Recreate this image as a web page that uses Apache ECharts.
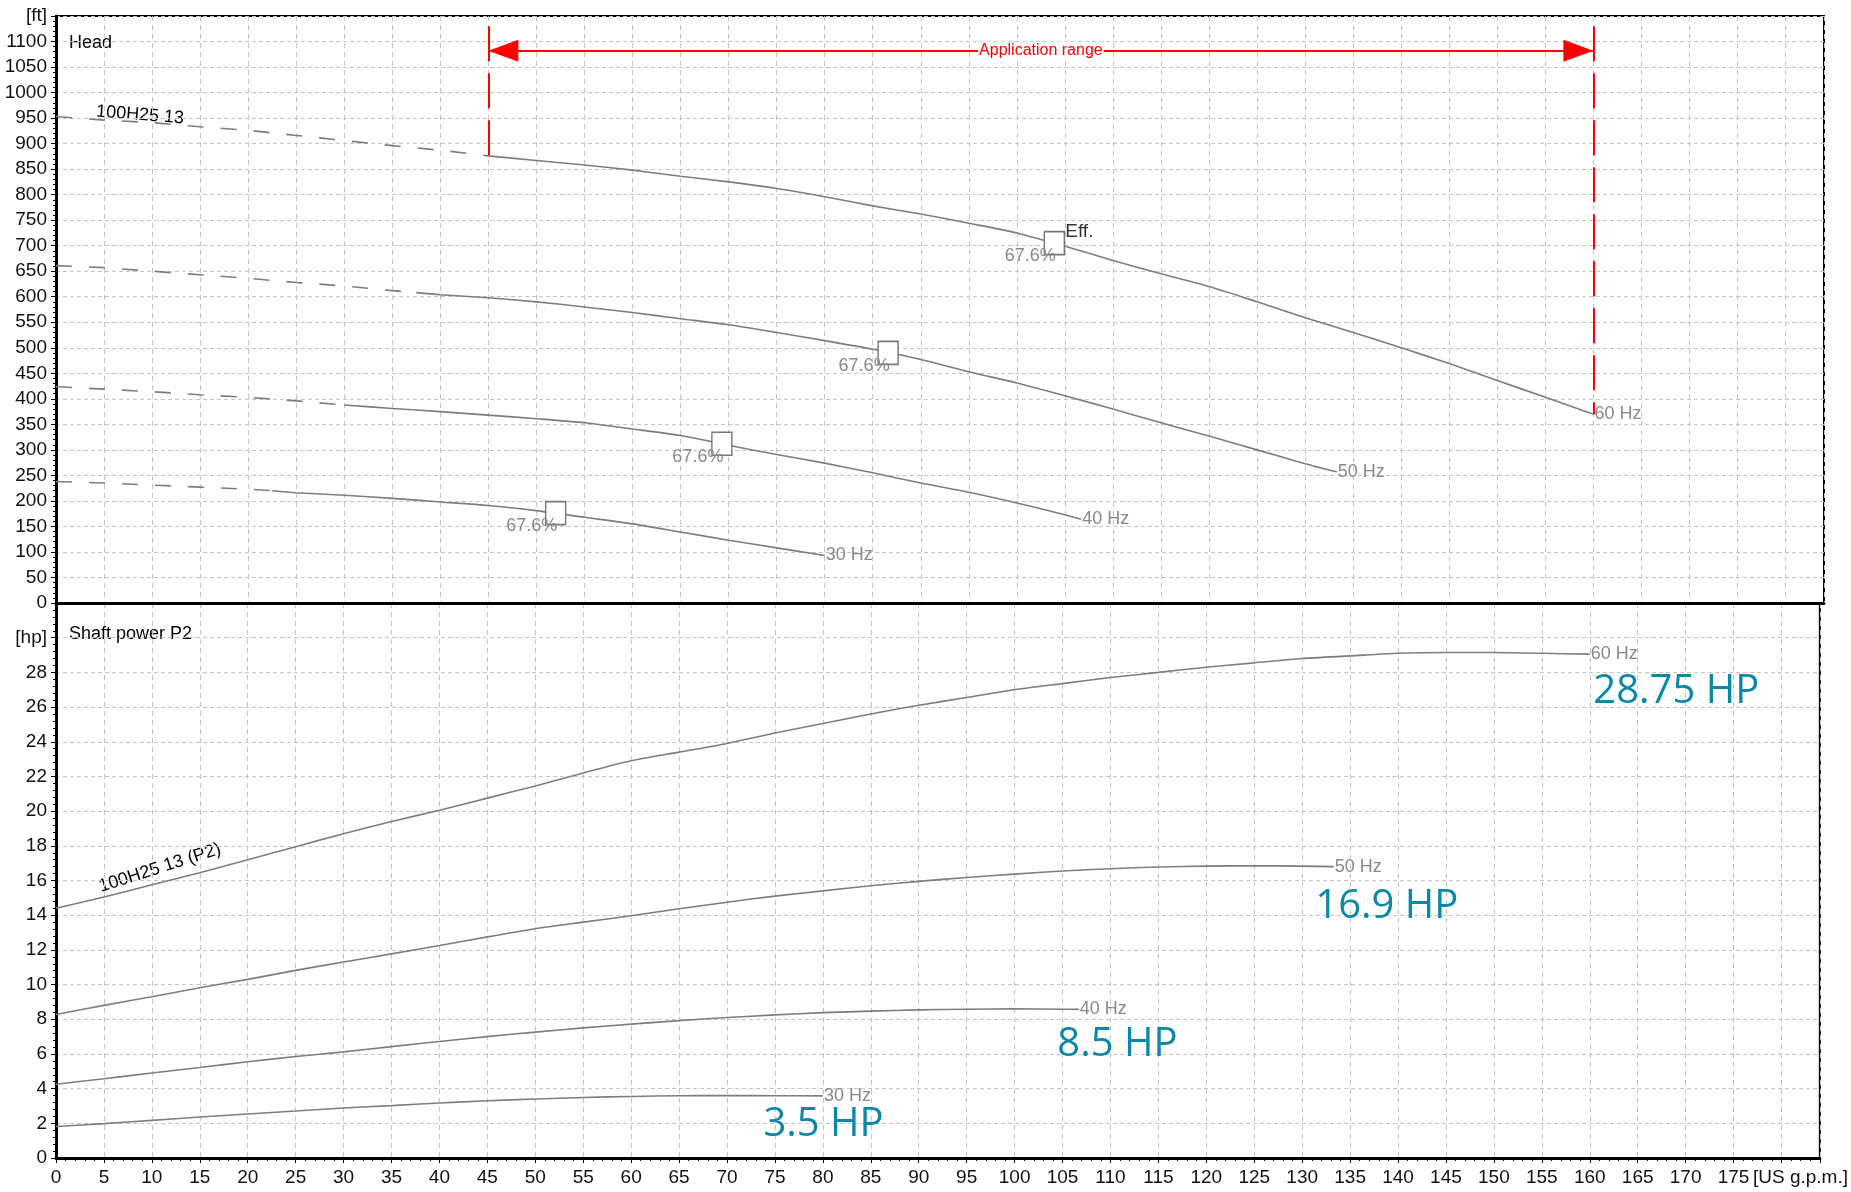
<!DOCTYPE html>
<html>
<head>
<meta charset="utf-8">
<title>100H25 13</title>
<script src="https://cdn.jsdelivr.net/npm/echarts@6/dist/echarts.min.js"></script>
<style>
  html, body { margin: 0; padding: 0; background: #fff; }
  #chart { width: 1851px; height: 1192px; }
</style>
</head>
<body>
<div id="chart"></div>
<script>
// flow [US g.p.m.] vs head [ft], one curve per frequency
const head60 = [[0,953],[5,946],[10,941],[15,933],[20,926],[25,916],[30,906],[35,896],[40,887],[45,876],[50,867],[55,858],[60,848],[65,836],[70,825],[75,812],[80,796],[85,778],[90,762],[95,744],[100,725],[105,699],[110,671],[115,645],[120,620],[125,590],[130,559],[135,530],[140,500],[145,469],[150,436],[155,403],[160,370]]
const head50 = [[0,661],[5,657],[10,650],[15,643],[20,636],[25,628],[30,621],[35,612],[37.5,608],[40,604],[45,598],[50,590],[55,580],[60,569],[65,557],[70,545],[75,530],[80,514],[85,497],[90,477],[95,453],[100,431],[105,406],[110,380],[115,353],[120,327],[125,300],[130,273],[133.3,257]]
const head40 = [[0,424],[5,419],[10,414],[15,408],[20,403],[25,396],[30,388],[35,381],[40,375],[45,368],[50,361],[55,353],[60,341],[65,328],[70,309],[75,291],[80,274],[85,255],[90,235],[95,217],[100,196],[105,173],[106.7,164]]
const head30 = [[0,238],[5,235],[10,231],[15,227],[20,223],[22.5,220],[25,216],[30,211],[35,205],[40,198],[45,191],[50,181],[55,168],[60,155],[65,139],[70,123],[75,108],[80,93]]

// flow [US g.p.m.] vs shaft power P2 [hp]
const power60 = [[0,14.4],[5,15.05],[10,15.75],[15,16.45],[20,17.2],[25,17.95],[30,18.7],[35,19.4],[40,20.05],[45,20.75],[50,21.45],[55,22.2],[60,22.9],[65,23.4],[70,23.9],[75,24.5],[80,25.05],[85,25.6],[90,26.1],[95,26.55],[100,27.0],[105,27.35],[110,27.7],[115,28.0],[120,28.3],[125,28.55],[130,28.8],[135,28.95],[140,29.1],[145,29.15],[150,29.15],[155,29.1],[160,29.05]]
const power50 = [[0,8.27],[5,8.8],[10,9.3],[15,9.82],[20,10.3],[25,10.82],[30,11.3],[35,11.77],[40,12.25],[45,12.75],[50,13.22],[55,13.6],[60,13.97],[65,14.37],[70,14.75],[75,15.1],[80,15.4],[85,15.7],[90,15.95],[95,16.17],[100,16.37],[105,16.55],[110,16.68],[115,16.78],[120,16.83],[125,16.85],[130,16.83],[133.3,16.8]]
const power40 = [[0,4.25],[5,4.57],[10,4.9],[15,5.22],[20,5.55],[25,5.85],[30,6.12],[35,6.42],[40,6.72],[45,7.0],[50,7.26],[55,7.5],[60,7.72],[65,7.92],[70,8.1],[75,8.25],[80,8.38],[85,8.47],[90,8.54],[95,8.58],[100,8.6],[105,8.58],[106.7,8.57]]
const power30 = [[0,1.82],[5,1.98],[10,2.17],[15,2.36],[20,2.54],[25,2.71],[30,2.88],[35,3.02],[40,3.17],[45,3.3],[50,3.4],[55,3.49],[60,3.55],[65,3.59],[70,3.6],[75,3.59],[80,3.58]]

const freqNames = ['60 Hz', '50 Hz', '40 Hz', '30 Hz']
// head curve is dashed below this flow
const dashUntil = [45, 37.5, 30, 22.5]
// best efficiency points
const effPoints = [[103.9, 705], [86.6, 490], [69.3, 312], [52, 176]]
const effText = '67.6%'
const appRange = [45, 160]
const appArrowHead = 1082
const appTop = 1130
const hpCallouts = ['28.75 HP', '16.9 HP', '8.5 HP', '3.5 HP']

const headCurves = [head60, head50, head40, head30]
const powerCurves = [power60, power50, power40, power30]

const curveColor = '#7d7d7d'
const gridColor = '#c4c4c4'
const narrow = '"Liberation Sans Narrow", "Liberation Sans", Arial, sans-serif'
const callOffsets = [[3, 37], [-19, 40], [-22, 35], [-60, 29]]

let myChart = echarts.init(document.getElementById('chart'))

let series = []
headCurves.forEach((pts, i) => {
  let brk = dashUntil[i]
  series.push({
    name: freqNames[i] + ' low',
    type: 'line',
    xAxisIndex: 0,
    yAxisIndex: 0,
    showSymbol: false,
    silent: true,
    lineStyle: { color: curveColor, width: 1.6, type: [16, 17] },
    data: pts.filter(p => p[0] <= brk)
  })
  series.push({
    name: freqNames[i],
    type: 'line',
    xAxisIndex: 0,
    yAxisIndex: 0,
    showSymbol: false,
    silent: true,
    smooth: 0.25,
    lineStyle: { color: curveColor, width: 1.6 },
    endLabel: {
      show: true,
      formatter: freqNames[i],
      distance: 1,
      color: '#888',
      fontFamily: narrow,
      fontSize: 18
    },
    data: pts.filter(p => p[0] >= brk)
  })
})

powerCurves.forEach((pts, i) => {
  let last = pts[pts.length - 1]
  series.push({
    name: freqNames[i] + ' P2',
    type: 'line',
    xAxisIndex: 1,
    yAxisIndex: 1,
    showSymbol: false,
    silent: true,
    smooth: 0.25,
    lineStyle: { color: curveColor, width: 1.6 },
    endLabel: {
      show: true,
      formatter: freqNames[i],
      distance: 1,
      color: '#888',
      fontFamily: narrow,
      fontSize: 18
    },
    markPoint: {
      silent: true,
      symbol: 'circle',
      symbolSize: 1,
      itemStyle: { color: 'rgba(0,0,0,0)' },
      label: {
        show: true,
        position: 'right',
        distance: 0,
        offset: callOffsets[i],
        formatter: hpCallouts[i],
        color: '#0b87a8',
        fontFamily: '"Open Sans", sans-serif',
        fontSize: 40
      },
      data: [{ coord: last }]
    },
    data: pts
  })
})

// efficiency boxes
series.push({
  name: 'Eff.',
  type: 'scatter',
  xAxisIndex: 0,
  yAxisIndex: 0,
  silent: true,
  z: 5,
  symbol: 'rect',
  symbolSize: [20, 23],
  itemStyle: { color: '#fff', borderColor: '#777', borderWidth: 1.5, opacity: 1 },
  label: {
    show: true,
    position: 'inside',
    offset: [-24, 13],
    formatter: effText,
    color: '#888',
    fontFamily: narrow,
    fontSize: 18
  },
  data: effPoints
})
series.push({
  name: 'Eff. label',
  type: 'scatter',
  xAxisIndex: 0,
  yAxisIndex: 0,
  silent: true,
  z: 6,
  symbolSize: 1,
  itemStyle: { color: 'rgba(0,0,0,0)' },
  label: {
    show: true,
    position: 'inside',
    offset: [25, -11],
    formatter: 'Eff.',
    color: '#000',
    fontFamily: narrow,
    fontSize: 19
  },
  data: [effPoints[0]]
})

// application range
let headAt = (q) => head60.find(p => p[0] === q)[1]
series.push({
  name: 'Application range',
  type: 'line',
  xAxisIndex: 0,
  yAxisIndex: 0,
  silent: true,
  data: [],
  markLine: {
    silent: true,
    animation: false,
    data: [
      [
        {
          coord: [appRange[0], appArrowHead],
          symbol: 'triangle',
          symbolSize: [22, 30],
          symbolOffset: [0, 15],
          lineStyle: { color: '#ff0000', width: 2, type: 'solid' },
          label: {
            show: true,
            position: 'middle',
            distance: 0,
            verticalAlign: 'middle',
            formatter: 'Application range',
            color: '#ff0000',
            fontFamily: '"Liberation Sans", Arial, sans-serif',
            fontSize: 16,
            backgroundColor: '#fff',
            padding: [1, 1]
          }
        },
        { coord: [appRange[1], appArrowHead], symbol: 'triangle', symbolSize: [22, 30], symbolOffset: [0, 15] }
      ],
      [
        { coord: [appRange[0], appTop], symbol: 'none', lineStyle: { color: '#ff0000', width: 2, type: [35, 12] }, label: { show: false } },
        { coord: [appRange[0], headAt(appRange[0])], symbol: 'none' }
      ],
      [
        { coord: [appRange[1], appTop], symbol: 'none', lineStyle: { color: '#ff0000', width: 2, type: [35, 12] }, label: { show: false } },
        { coord: [appRange[1], headAt(appRange[1])], symbol: 'none' }
      ]
    ]
  }
})

let xAxisBase = {
  type: 'value',
  min: 0,
  max: 184,
  interval: 5,
  axisLine: { show: true, onZero: false, lineStyle: { color: '#000', width: 3 } },
  splitLine: { show: true, lineStyle: { color: gridColor, width: 1, type: [5, 4] } }
}

let yAxisBase = {
  type: 'value',
  min: 0,
  axisLine: { show: true, onZero: false, lineStyle: { color: '#000', width: 3 } },
  axisTick: { show: true, length: 5, lineStyle: { color: '#000' } },
  minorTick: { show: true, splitNumber: 5, length: 3, lineStyle: { color: '#000' } },
  splitLine: { show: true, lineStyle: { color: gridColor, width: 1, type: [4, 3] } }
}

myChart.setOption({
  animation: false,
  backgroundColor: '#fff',
  grid: [
    { left: 56, top: 16, width: 1768, height: 587, show: true, borderColor: '#000', borderWidth: 2 },
    { left: 56, top: 603, width: 1768, height: 555, show: true, borderColor: '#000', borderWidth: 2 }
  ],
  xAxis: [
    Object.assign({}, xAxisBase, {
      gridIndex: 0,
      axisTick: { show: false },
      axisLabel: { show: false }
    }),
    Object.assign({}, xAxisBase, {
      gridIndex: 1,
      axisTick: { show: true, length: 5, lineStyle: { color: '#000' } },
      minorTick: { show: true, splitNumber: 5, length: 3, lineStyle: { color: '#000' } },
      axisLabel: {
        margin: 10,
        color: '#111',
        fontFamily: narrow,
        fontSize: 19,
        formatter: v => {
          if (v === 180) return '{u|[US g.p.m.]}'
          return v % 5 === 0 ? String(v) : ''
        },
        rich: {
          u: { color: '#111', fontFamily: narrow, fontSize: 19, padding: [0, 0, 0, 38] }
        }
      }
    })
  ],
  yAxis: [
    Object.assign({}, yAxisBase, {
      gridIndex: 0,
      max: 1150,
      interval: 50,
      axisLabel: {
        margin: 9,
        color: '#111',
        fontFamily: narrow,
        fontSize: 19,
        formatter: v => (v === 1150 ? '[ft]' : String(v))
      }
    }),
    Object.assign({}, yAxisBase, {
      gridIndex: 1,
      max: 32,
      interval: 2,
      axisLabel: {
        margin: 9,
        color: '#111',
        fontFamily: narrow,
        fontSize: 19,
        formatter: v => (v === 32 ? '' : v === 30 ? '[hp]' : String(v))
      }
    })
  ],
  graphic: [
    { type: 'text', left: 69, top: 34, style: { text: 'Head', fill: '#000', font: '18px ' + narrow } },
    { type: 'text', left: 69, top: 625, style: { text: 'Shaft power P2', fill: '#000', font: '18px ' + narrow } },
    { type: 'text', x: 140, y: 115, rotation: -0.08, style: { text: '100H25 13', fill: '#000', font: '18px ' + narrow, align: 'center', verticalAlign: 'middle' } },
    { type: 'text', x: 160, y: 868, rotation: 0.31, style: { text: '100H25 13 (P2)', fill: '#000', font: '18px ' + narrow, align: 'center', verticalAlign: 'middle' } }
  ],
  series: series
})
window.addEventListener('resize', () => { myChart.resize() })
</script>
</body>
</html>
